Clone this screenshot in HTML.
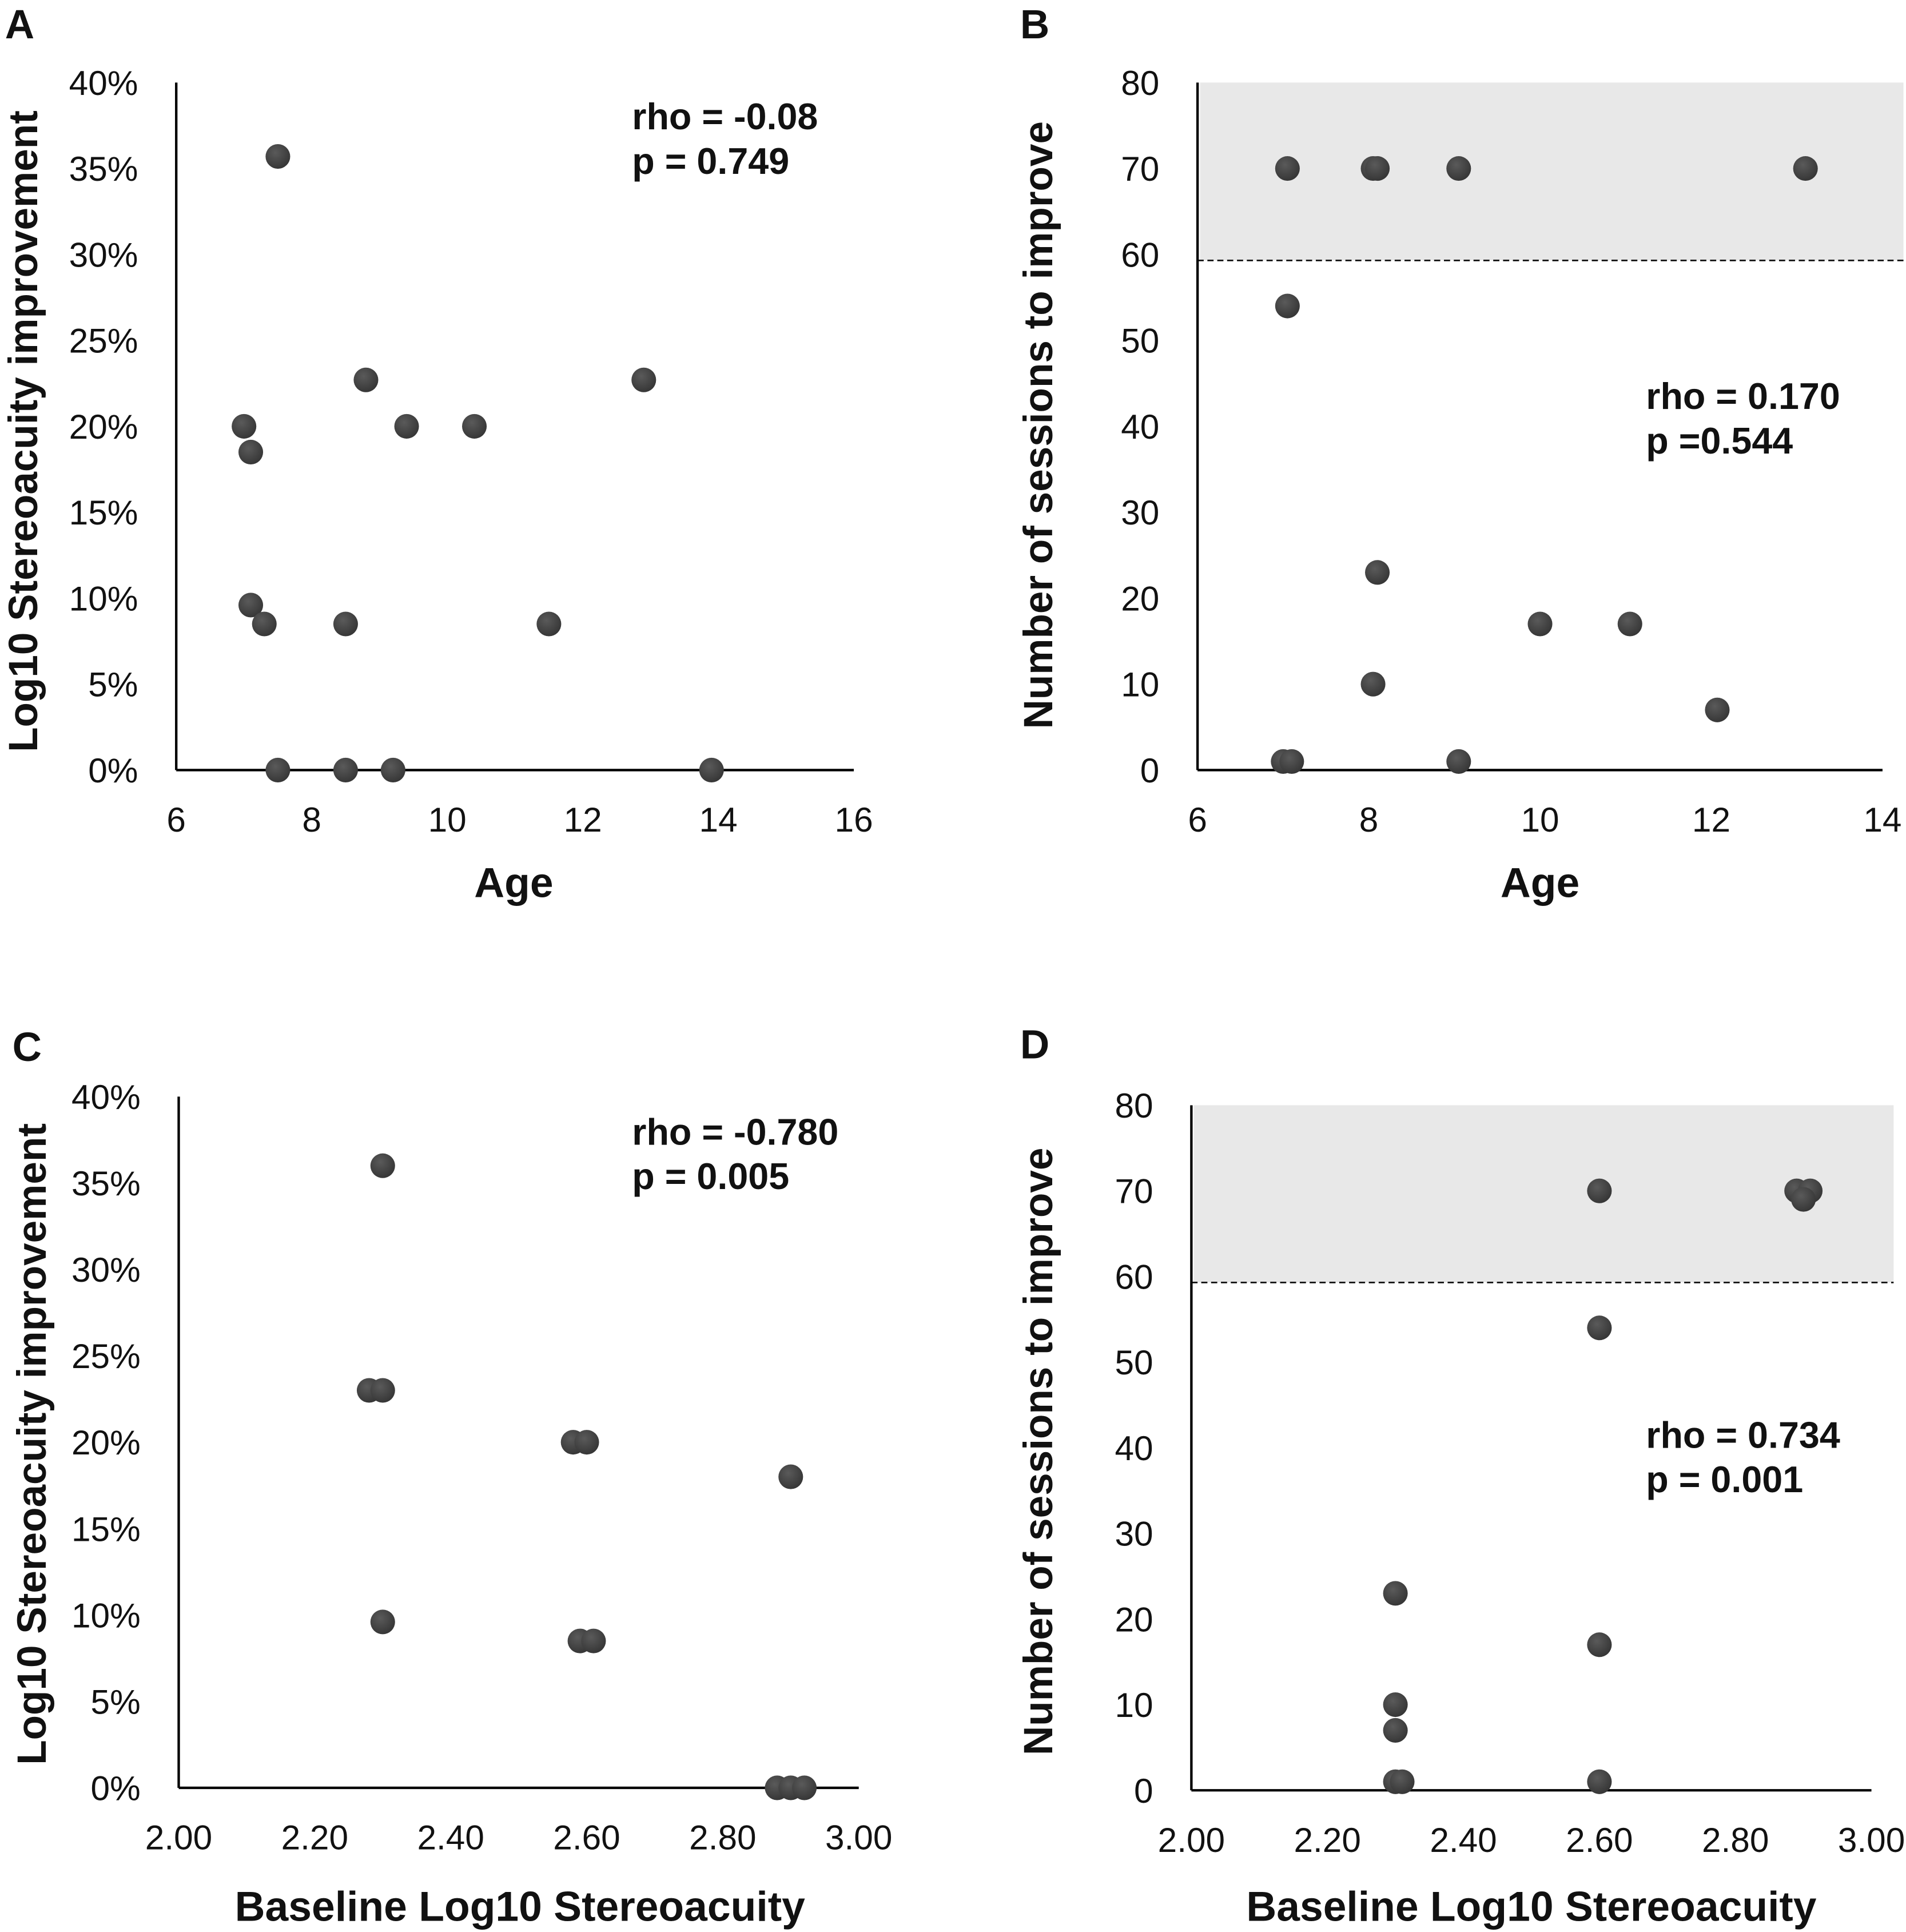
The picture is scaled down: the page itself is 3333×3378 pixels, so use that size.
<!DOCTYPE html>
<html><head><meta charset="utf-8"><style>
html,body{margin:0;padding:0;background:#fff}
svg{display:block}
text{font-family:"Liberation Sans",sans-serif}
.tick{font-size:28px;fill:#111}
.bold{font-weight:bold;fill:#111}
</style></head><body>
<svg id="fig" width="3333" height="3378" viewBox="0 0 1547 1568" xmlns="http://www.w3.org/2000/svg">
</svg>
<script>
// Panel A data: age vs log10 improvement (%)
const aAge=[7.0,7.1,7.5,7.1,7.3,8.5,11.5,8.8,9.4,10.4,12.9,7.5,8.5,9.2,13.9];
const aImp=[20,18.5,35.7,9.6,8.5,8.5,8.5,22.7,20,20,22.7,0,0,0,0];
// Panel B data: age vs sessions
const bAge=[7.05,8.05,8.1,9.05,13.1,7.05,8.1,8.05,10.0,11.05,12.07,7.0,7.1,9.05];
const bSes=[70,70,70,70,70,54,23,10,17,17,7,1,1,1];
// Panel C data: baseline vs improvement (%)
const cBase=[2.30,2.28,2.30,2.58,2.60,2.90,2.30,2.59,2.61,2.88,2.90,2.92];
const cImp=[36,23,23,20,20,18,9.6,8.5,8.5,0,0,0];
// Panel D data: baseline vs sessions
const dBase=[2.60,2.89,2.91,2.90,2.60,2.30,2.60,2.30,2.30,2.30,2.31,2.60];
const dSes=[70,70,70,69,54,23,17,10,7,1,1,1];
// tick labels
const pctTicks=[0,5,10,15,20,25,30,35,40];
const ageTicksA=[6,8,10,12,14,16];
const ageTicksB=[6,8,10,12,14];
const sesTicks=[0,10,20,30,40,50,60,70,80];
const baseTicks=[2.0,2.2,2.4,2.6,2.8,3.0];

const NS="http://www.w3.org/2000/svg";
const svg=document.getElementById('fig');
function el(tag,attrs,parent,txt){const e=document.createElementNS(NS,tag);for(const k in attrs)e.setAttribute(k,attrs[k]);if(txt!==undefined)e.textContent=txt;(parent||svg).appendChild(e);return e;}
const defs=el('defs',{});
const g=el('radialGradient',{id:'dot',cx:'0.4',cy:'0.35',r:'0.7'},defs);
el('stop',{offset:'0','stop-color':'#5a5a5a'},g);
el('stop',{offset:'1','stop-color':'#343434'},g);

function panel(cfg){
  const grp=el('g',{});
  
  
  const sx=v=>cfg.x0+(v-cfg.xmin)/(cfg.xmax-cfg.xmin)*(cfg.x1-cfg.x0);
  const sy=v=>cfg.y0-(v-cfg.ymin)/(cfg.ymax-cfg.ymin)*(cfg.y0-cfg.y1);
  if(cfg.band){
    const b=el('rect',{x:cfg.x0+2,y:cfg.y1,width:cfg.bandRight-cfg.x0-2,height:sy(cfg.band)-cfg.y1,fill:'#e8e8e8'},grp);
    
    
    const d=el('line',{x1:cfg.x0,x2:cfg.bandRight,y1:sy(cfg.band),y2:sy(cfg.band),stroke:'#111','stroke-width':1.3,'stroke-dasharray':'5,3'},grp);
    
    
  }
  const ya=el('line',{x1:cfg.x0,x2:cfg.x0,y1:cfg.y1,y2:cfg.y0,stroke:'#000','stroke-width':2},grp);
  
  
  const xa=el('line',{x1:cfg.x0,x2:cfg.x1,y1:cfg.y0,y2:cfg.y0,stroke:'#000','stroke-width':2},grp);
  
  
  cfg.yt.forEach(v=>{const t=el('text',{x:cfg.x0-31,y:sy(v)+10,'text-anchor':'end',class:'tick'},grp,cfg.yfmt(v));
    
    });
  cfg.xt.forEach(v=>{const t=el('text',{x:sx(v),y:cfg.y0+50,'text-anchor':'middle',class:'tick'},grp,cfg.xfmt(v));
    
    });
  cfg.xs.forEach((v,i)=>{const c=el('circle',{cx:sx(v),cy:sy(cfg.ys[i]),r:10,fill:'url(#dot)'},grp);
    
    });
  const xl=el('text',{x:cfg.xlx,y:cfg.xly,'text-anchor':'middle',class:'bold','font-size':34},grp,cfg.xlabel);
  
  
  const yl=el('text',{x:0,y:0,'text-anchor':'middle',class:'bold','font-size':33,transform:`translate(${cfg.ylx},${cfg.yly}) rotate(-90)`},grp,cfg.ylabel);
  
  
  const s1=el('text',{x:cfg.sx,y:cfg.sy,class:'bold','font-size':30},grp,cfg.s1);
  
  
  const s2=el('text',{x:cfg.sx,y:cfg.sy+36,class:'bold','font-size':30},grp,cfg.s2);
  
  
  const L=el('text',{x:cfg.lx,y:cfg.ly,class:'bold','font-size':33},grp,cfg.letter);
  
  
}
const pct=v=>v+'%', num=v=>String(v), fix2=v=>v.toFixed(2);
panel({name:'panel-a',x0:143,x1:693,y0:625,y1:67,xmin:6,xmax:16,ymin:0,ymax:40,yt:pctTicks,xt:ageTicksA,yfmt:pct,xfmt:num,
  xs:aAge,ys:aImp,xlabel:'Age',xlx:417,xly:728,ylabel:'Log10 Stereoacuity improvement',ylx:30,yly:350,
  s1:'rho = -0.08',s2:'p = 0.749',sx:513,sy:105,letter:'A',lx:4,ly:31});
panel({name:'panel-b',x0:972,x1:1528,y0:625,y1:67,xmin:6,xmax:14,ymin:0,ymax:80,yt:sesTicks,xt:ageTicksB,yfmt:num,xfmt:num,
  xs:bAge,ys:bSes,band:59.3,bandRight:1545,xlabel:'Age',xlx:1250,xly:728,ylabel:'Number of sessions to improve',ylx:854,yly:345,
  s1:'rho = 0.170',s2:'p =0.544',sx:1336,sy:332,letter:'B',lx:828,ly:31});
panel({name:'panel-c',x0:145,x1:697,y0:1451,y1:890,xmin:2,xmax:3,ymin:0,ymax:40,yt:pctTicks,xt:baseTicks,yfmt:pct,xfmt:fix2,
  xs:cBase,ys:cImp,xlabel:'Baseline Log10 Stereoacuity',xlx:422,xly:1559,ylabel:'Log10 Stereoacuity improvement',ylx:37,yly:1172,
  s1:'rho = -0.780',s2:'p = 0.005',sx:513,sy:929,letter:'C',lx:10,ly:861});
panel({name:'panel-d',x0:967,x1:1519,y0:1453,y1:897,xmin:2,xmax:3,ymin:0,ymax:80,yt:sesTicks,xt:baseTicks,yfmt:num,xfmt:fix2,
  xs:dBase,ys:dSes,band:59.3,bandRight:1537,xlabel:'Baseline Log10 Stereoacuity',xlx:1243,xly:1559,ylabel:'Number of sessions to improve',ylx:854,yly:1178,
  s1:'rho = 0.734',s2:'p = 0.001',sx:1336,sy:1175,letter:'D',lx:828,ly:859});
</script>
</body></html>
